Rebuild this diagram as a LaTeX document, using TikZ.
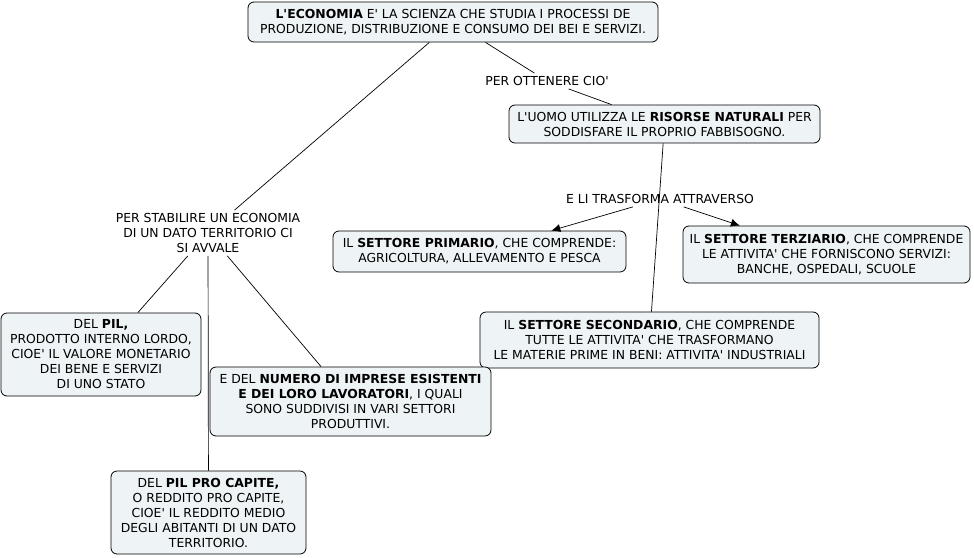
\documentclass[tikz,border=0pt]{standalone}
\usepackage{fontspec}
\setmainfont[Ligatures=TeXOff]{DejaVu Sans}
\usepackage{tikz}
\usetikzlibrary{arrows.meta}
\definecolor{boxfill}{HTML}{EEF3F6}

\begin{document}
\begin{tikzpicture}
	[x=1pt, y=-1pt,
	concept/.style={draw, rounded corners=6pt, fill=boxfill, align=center, inner sep=2pt, line width=0.8pt},
	link label/.style={align=center, inner sep=3pt},
	link/.style={line width=0.7pt},
	arrow link/.style={link, -{Latex[length=9pt, width=8pt]}},
	every node/.style={font=\fontsize{12.4}{15}\selectfont}]
	\useasboundingbox (0,0) rectangle (974,557);

	%concepts
	\node[concept, minimum width=410pt, minimum height=40pt] (economia) at (453,22)
		{\textbf{L'ECONOMIA} E' LA SCIENZA CHE STUDIA I PROCESSI DE\\PRODUZIONE, DISTRIBUZIONE E CONSUMO DEI BEI E SERVIZI.};
	\node[concept, minimum width=311pt, minimum height=38pt] (risorse) at (664.5,124)
		{L'UOMO UTILIZZA LE \textbf{RISORSE NATURALI} PER\\SODDISFARE IL PROPRIO FABBISOGNO.};
	\node[concept, minimum width=293pt, minimum height=41pt] (primario) at (479.5,251.5)
		{IL \textbf{SETTORE PRIMARIO}, CHE COMPRENDE:\\AGRICOLTURA, ALLEVAMENTO E PESCA};
	\node[concept, minimum width=287pt, minimum height=57pt] (terziario) at (826.5,254.5)
		{IL \textbf{SETTORE TERZIARIO}, CHE COMPRENDE\\LE ATTIVITA' CHE FORNISCONO SERVIZI:\\BANCHE, OSPEDALI, SCUOLE};
	\node[concept, minimum width=339pt, minimum height=56pt] (secondario) at (649.5,340)
		{IL \textbf{SETTORE SECONDARIO}, CHE COMPRENDE\\TUTTE LE ATTIVITA' CHE TRASFORMANO\\LE MATERIE PRIME IN BENI: ATTIVITA' INDUSTRIALI};
	\node[concept, minimum width=200pt, minimum height=83pt] (pil) at (101,354.5)
		{DEL \textbf{PIL,}\\ PRODOTTO INTERNO LORDO,\\CIOE' IL VALORE MONETARIO\\DEI BENE E SERVIZI\\DI UNO STATO};
	\node[concept, minimum width=281pt, minimum height=69pt] (imprese) at (350.5,401.5)
		{E DEL \textbf{NUMERO DI IMPRESE ESISTENTI}\\\textbf{E DEI LORO LAVORATORI}, I QUALI\\SONO SUDDIVISI IN VARI SETTORI\\PRODUTTIVI.};
	\node[concept, minimum width=195pt, minimum height=83pt] (procapite) at (208.5,512.5)
		{DEL \textbf{PIL PRO CAPITE,}\\O REDDITO PRO CAPITE,\\CIOE' IL REDDITO MEDIO\\DEGLI ABITANTI DI UN DATO\\TERRITORIO.};

	%link labels
	\node[link label] (ottenere) at (547,81) {PER OTTENERE CIO'};
	\node[link label] (trasforma) at (660,199) {E LI TRASFORMA ATTRAVERSO};
	\node[link label] (stabilire) at (208,233) {PER STABILIRE UN ECONOMIA\\DI UN DATO TERRITORIO CI\\SI AVVALE};

	%connectors
	\draw[link] (economia) -- (ottenere);
	\draw[link] (ottenere) -- (risorse);
	\draw[link] (risorse) -- (secondario);
	\draw[arrow link] (trasforma) -- (primario);
	\draw[arrow link] (trasforma) -- (terziario);
	\draw[link] (economia) -- (stabilire);
	\draw[link] (stabilire) -- (pil);
	\draw[link] (stabilire) -- (procapite);
	\draw[link] (stabilire) -- (imprese);
\end{tikzpicture}
\end{document}
